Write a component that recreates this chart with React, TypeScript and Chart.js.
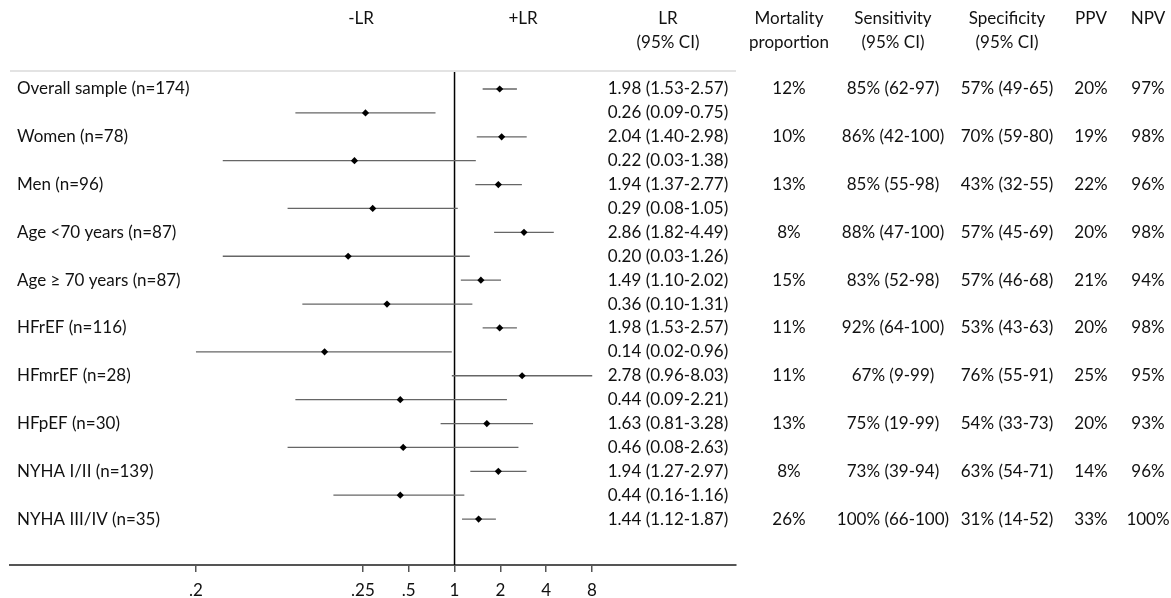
import React, { useEffect, useRef } from "react";
import { Chart, registerables } from "chart.js";

Chart.register(...registerables);

// ---------- data ----------
const groups = [
  "Overall sample (n=174)",
  "Women (n=78)",
  "Men (n=96)",
  "Age <70 years (n=87)",
  "Age \u2265 70 years (n=87)",
  "HFrEF (n=116)",
  "HFmrEF (n=28)",
  "HFpEF (n=30)",
  "NYHA I/II (n=139)",
  "NYHA III/IV (n=35)",
];
const posLR = [1.98, 2.04, 1.94, 2.86, 1.49, 1.98, 2.78, 1.63, 1.94, 1.44];
const posLo = [1.53, 1.4, 1.37, 1.82, 1.1, 1.53, 0.96, 0.81, 1.27, 1.12];
const posHi = [2.57, 2.98, 2.77, 4.49, 2.02, 2.57, 8.03, 3.28, 2.97, 1.87];
const negLR = [0.26, 0.22, 0.29, 0.2, 0.36, 0.14, 0.44, 0.46, 0.44, null];
const negLo = [0.09, 0.03, 0.08, 0.03, 0.1, 0.02, 0.09, 0.08, 0.16, null];
const negHi = [0.75, 1.38, 1.05, 1.26, 1.31, 0.96, 2.21, 2.63, 1.16, null];
const mortality = [12, 10, 13, 8, 15, 11, 11, 13, 8, 26];
const sens = [85, 86, 85, 88, 83, 92, 67, 75, 73, 100];
const sensLo = [62, 42, 55, 47, 52, 64, 9, 19, 39, 66];
const sensHi = [97, 100, 98, 100, 98, 100, 99, 99, 94, 100];
const spec = [57, 70, 43, 57, 57, 53, 76, 54, 63, 31];
const specLo = [49, 59, 32, 45, 46, 43, 55, 33, 54, 14];
const specHi = [65, 80, 55, 69, 68, 63, 91, 73, 71, 52];
const ppv = [20, 19, 22, 20, 21, 20, 25, 20, 14, 33];
const npv = [97, 98, 96, 98, 94, 98, 95, 93, 96, 100];
const tickValues = [0.02, 0.25, 0.5, 1, 2, 4, 8];
const tickLabels = [".2", ".25", ".5", "1", "2", "4", "8"];

// ---------- layout / style ----------
const W = 1171;
const H = 598;
const FONT = "Lato";
const FS = 17;
const TEXT = "#111";
const X_MIN = 0.0012;
const X_MAX = 70.7;

const f2 = (v: number) => v.toFixed(2);

const forestPlugin = {
  id: "forest",
  beforeDatasetsDraw(chart: any) {
    const { ctx, chartArea, scales } = chart;
    const x = scales.x;
    const y = scales.y;
    ctx.save();
    // top rule
    ctx.strokeStyle = "#c8c8c8";
    ctx.lineWidth = 1.2;
    ctx.beginPath();
    ctx.moveTo(chartArea.left, chartArea.top);
    ctx.lineTo(chartArea.right, chartArea.top);
    ctx.stroke();
    // reference line at 1
    const x1 = x.getPixelForValue(1);
    ctx.strokeStyle = "#000";
    ctx.lineWidth = 1.5;
    ctx.beginPath();
    ctx.moveTo(x1, chartArea.top + 1);
    ctx.lineTo(x1, chartArea.bottom);
    ctx.stroke();
    // confidence intervals
    ctx.strokeStyle = "#666";
    ctx.lineWidth = 1.3;
    groups.forEach((_, k) => {
      const yp = y.getPixelForValue(2 * k);
      ctx.beginPath();
      ctx.moveTo(x.getPixelForValue(posLo[k]), yp);
      ctx.lineTo(x.getPixelForValue(posHi[k]), yp);
      ctx.stroke();
      if (negLR[k] != null) {
        const yn = y.getPixelForValue(2 * k + 1);
        ctx.beginPath();
        ctx.moveTo(x.getPixelForValue(negLo[k] as number), yn);
        ctx.lineTo(x.getPixelForValue(negHi[k] as number), yn);
        ctx.stroke();
      }
    });
    ctx.restore();
  },
  afterDraw(chart: any) {
    const { ctx, scales } = chart;
    const y = scales.y;
    ctx.save();
    ctx.font = `${FS}px ${FONT}`;
    ctx.fillStyle = TEXT;
    ctx.textBaseline = "middle";
    // headers
    ctx.textAlign = "center";
    const h1 = 19;
    const h2 = 43;
    ctx.fillText("-LR", 361, h1);
    ctx.fillText("+LR", 523, h1);
    ctx.fillText("LR", 668, h1);
    ctx.fillText("(95% CI)", 668, h2);
    ctx.fillText("Mortality", 789, h1);
    ctx.fillText("proportion", 789, h2);
    ctx.fillText("Sensitivity", 893, h1);
    ctx.fillText("(95% CI)", 893, h2);
    ctx.fillText("Specificity", 1007, h1);
    ctx.fillText("(95% CI)", 1007, h2);
    ctx.fillText("PPV", 1091, h1);
    ctx.fillText("NPV", 1148, h1);
    // rows
    groups.forEach((g, k) => {
      const yp = y.getPixelForValue(2 * k);
      ctx.textAlign = "left";
      ctx.fillText(g, 17, yp);
      ctx.textAlign = "center";
      ctx.fillText(`${f2(posLR[k])} (${f2(posLo[k])}-${f2(posHi[k])})`, 668, yp);
      if (negLR[k] != null) {
        const yn = y.getPixelForValue(2 * k + 1);
        ctx.fillText(
          `${f2(negLR[k] as number)} (${f2(negLo[k] as number)}-${f2(negHi[k] as number)})`,
          668,
          yn
        );
      }
      ctx.fillText(`${mortality[k]}%`, 789, yp);
      ctx.fillText(`${sens[k]}% (${sensLo[k]}-${sensHi[k]})`, 893, yp);
      ctx.fillText(`${spec[k]}% (${specLo[k]}-${specHi[k]})`, 1007, yp);
      ctx.fillText(`${ppv[k]}%`, 1091, yp);
      ctx.fillText(`${npv[k]}%`, 1148, yp);
    });
    ctx.restore();
  },
};

export default function App() {
  const ref = useRef<HTMLCanvasElement | null>(null);
  useEffect(() => {
    document.body.style.margin = "0";
    document.body.style.background = "#fff";
    const canvas = ref.current;
    if (!canvas) return;
    const points: { x: number; y: number }[] = [];
    groups.forEach((_, k) => {
      points.push({ x: posLR[k], y: 2 * k });
      if (negLR[k] != null) points.push({ x: negLR[k] as number, y: 2 * k + 1 });
    });
    const chart = new Chart(canvas, {
      type: "scatter",
      data: {
        datasets: [
          {
            data: points,
            pointStyle: "rectRot",
            pointRadius: 3.6,
            pointHoverRadius: 3.6,
            backgroundColor: "#000",
            borderColor: "#000",
            borderWidth: 0,
          },
        ],
      },
      options: {
        animation: false,
        responsive: false,
        devicePixelRatio: 1,
        events: [],
        layout: { padding: { left: 10, right: W - 736, top: 71, bottom: 0 } },
        plugins: { legend: { display: false }, tooltip: { enabled: false } },
        scales: {
          x: {
            type: "logarithmic",
            min: X_MIN,
            max: X_MAX,
            afterBuildTicks: (s: any) => {
              s.ticks = tickValues.map((v) => ({ value: v }));
            },
            afterFit: (s: any) => {
              s.height = 33;
            },
            ticks: {
              autoSkip: false,
              maxRotation: 0,
              padding: 8,
              color: TEXT,
              font: { family: FONT, size: FS },
              callback: (_v: any, i: number) => tickLabels[i],
            },
            grid: {
              display: true,
              drawOnChartArea: false,
              drawTicks: true,
              tickLength: 7,
              color: "#555",
              lineWidth: 1.5,
            },
            border: { display: true, color: "#555", width: 2 },
          },
          y: {
            type: "linear",
            display: false,
            reverse: true,
            min: -0.753,
            max: 19.92,
          },
        },
      },
      plugins: [forestPlugin],
    } as any);
    return () => chart.destroy();
  }, []);
  return <canvas ref={ref} width={W} height={H} style={{ display: "block" }} />;
}
